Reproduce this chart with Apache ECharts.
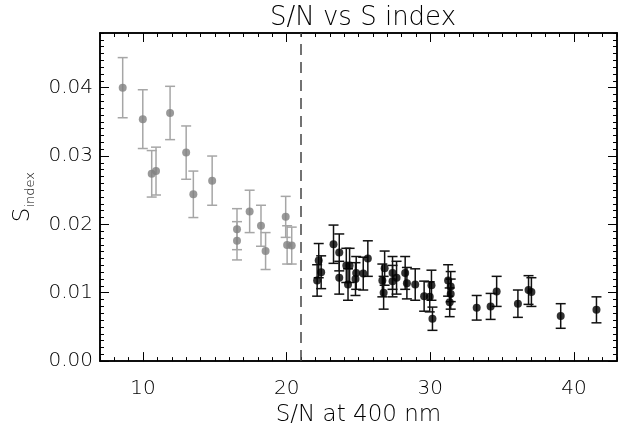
<!DOCTYPE html>
<html>
<head>
<meta charset="utf-8">
<script src="https://cdn.jsdelivr.net/npm/echarts@6/dist/echarts.min.js"></script>
<style>
  html, body { margin: 0; padding: 0; background: #fff; }
  #chart { width: 628px; height: 432px; }
</style>
</head>
<body>
<div id="chart"></div>
<script>
// low S/N points (grey)
var grayX = [8.58, 9.98, 10.6, 10.9, 11.88, 13.0, 13.5, 14.81, 16.54, 16.54, 17.42, 18.21, 18.53, 19.93, 20.03, 20.35];
var grayY = [0.0400, 0.0354, 0.0274, 0.0278, 0.0363, 0.0305, 0.0244, 0.0264, 0.0193, 0.0176, 0.0219, 0.0198, 0.0161, 0.0211, 0.0170, 0.0169];
var grayErr = [0.0044, 0.0043, 0.0034, 0.0035, 0.0039, 0.0039, 0.0034, 0.0036, 0.0030, 0.0028, 0.0031, 0.0030, 0.0027, 0.0030, 0.0028, 0.0027];

// high S/N points (black)
var blackX = [22.12, 22.23, 22.40, 23.26, 23.66, 23.66, 24.15, 24.38, 24.27, 24.84, 24.79, 25.33, 25.65, 26.66, 26.82, 26.75, 27.37, 27.37, 27.65, 28.25, 28.37, 28.95, 29.57, 29.96, 30.08, 30.15, 31.24, 31.42, 31.42, 31.35, 33.23, 34.20, 34.62, 36.10, 36.84, 37.04, 39.08, 41.57];
var blackY = [0.0118, 0.0147, 0.0130, 0.0171, 0.0159, 0.0122, 0.0140, 0.0140, 0.0112, 0.0129, 0.0120, 0.0128, 0.0150, 0.0118, 0.0136, 0.0100, 0.0129, 0.0117, 0.0122, 0.0129, 0.0114, 0.0112, 0.0095, 0.0094, 0.0111, 0.0062, 0.0118, 0.0109, 0.0098, 0.0086, 0.0078, 0.0080, 0.0102, 0.0084, 0.0104, 0.0101, 0.0066, 0.0075];
var blackErr = [0.0023, 0.0025, 0.0024, 0.0028, 0.0027, 0.0024, 0.0025, 0.0025, 0.0023, 0.0024, 0.0024, 0.0024, 0.0026, 0.0024, 0.0025, 0.0024, 0.0024, 0.0023, 0.0024, 0.0024, 0.0023, 0.0023, 0.0022, 0.0022, 0.0022, 0.0017, 0.0023, 0.0022, 0.0022, 0.0021, 0.0018, 0.0019, 0.0022, 0.0020, 0.0021, 0.0021, 0.0018, 0.0019];

var xMajor = [10, 20, 30, 40];
var yMajor = [0, 0.01, 0.02, 0.03, 0.04];
var cutX = 21;

var FONT = 'DejaVu Sans';
var WEIGHT = 200;

function zip(xs, ys, es) {
    return xs.map(function (x, i) { return es ? [x, ys[i], es[i]] : [x, ys[i]]; });
}

// vertical bar + caps, placed with the axis scales
function errBars(color) {
    return function (params, api) {
        var x = api.value(0), y = api.value(1), e = api.value(2);
        var top = api.coord([x, y + e]);
        var bot = api.coord([x, y - e]);
        var cw = 5;
        var st = { stroke: color, lineWidth: 1.5 };
        return {
            type: 'group',
            children: [
                { type: 'line', shape: { x1: top[0], y1: top[1], x2: bot[0], y2: bot[1] }, style: st },
                { type: 'line', shape: { x1: top[0] - cw, y1: top[1], x2: top[0] + cw, y2: top[1] }, style: st },
                { type: 'line', shape: { x1: bot[0] - cw, y1: bot[1], x2: bot[0] + cw, y2: bot[1] }, style: st }
            ]
        };
    };
}

var axLine = { show: true, onZero: false, lineStyle: { color: '#000', width: 1.5 } };

function xAx(pos, major, labels) {
    return {
        type: 'value', position: pos, min: 7, max: 43, interval: 1,
        axisLine: axLine,
        splitLine: { show: false },
        axisTick: major
            ? { inside: true, length: 9, customValues: xMajor, lineStyle: { color: '#000', width: 1 } }
            : { inside: true, length: 4, lineStyle: { color: '#000', width: 1 } },
        axisLabel: labels
            ? { show: true, customValues: xMajor, margin: 18, fontFamily: FONT, fontWeight: WEIGHT, fontSize: 20, color: '#000' }
            : { show: false },
        name: labels ? 'S/N at 400 nm' : '',
        nameLocation: 'middle', nameGap: 38,
        nameTextStyle: { fontFamily: FONT, fontWeight: WEIGHT, fontSize: 23, color: '#000' }
    };
}

function yAx(pos, major, labels) {
    return {
        type: 'value', position: pos, min: 0, max: 0.048, interval: 0.001,
        axisLine: axLine,
        splitLine: { show: false },
        axisTick: major
            ? { inside: true, length: 9, customValues: yMajor, lineStyle: { color: '#000', width: 1 } }
            : { inside: true, length: 4, lineStyle: { color: '#000', width: 1 } },
        axisLabel: labels
            ? { show: true, customValues: yMajor, margin: 7, fontFamily: FONT, fontWeight: WEIGHT, fontSize: 20, color: '#000',
                formatter: function (v) { return v.toFixed(2); } }
            : { show: false },
        name: labels ? '{s|S}{sub|index}' : '',
        nameLocation: 'middle', nameGap: 56, nameRotate: 90,
        nameTextStyle: {
            fontFamily: FONT, color: '#000',
            rich: {
                s: { fontFamily: FONT, fontWeight: WEIGHT, fontSize: 23, color: '#000', verticalAlign: 'top', lineHeight: 26 },
                sub: { fontFamily: FONT, fontWeight: WEIGHT, fontSize: 13, color: '#000', verticalAlign: 'bottom', lineHeight: 26, padding: [10, 0, 0, 0] }
            }
        }
    };
}

var chart = echarts.init(document.getElementById('chart'), null, { renderer: 'canvas' });

chart.setOption({
    animation: false,
    backgroundColor: '#fff',
    title: {
        text: 'S/N vs S index',
        left: 358, top: 0, textAlign: 'center',
        textStyle: { fontFamily: FONT, fontSize: 26, fontWeight: WEIGHT, color: '#000' }
    },
    grid: { left: 100, right: 11, top: 33, bottom: 68 },
    xAxis: [xAx('bottom', false, false), xAx('bottom', true, true), xAx('top', false, false), xAx('top', true, false)],
    yAxis: [yAx('left', false, false), yAx('left', true, true), yAx('right', false, false), yAx('right', true, false)],
    series: [
        {
            type: 'custom', name: 'gray err', renderItem: errBars('#a6a6a6'),
            data: zip(grayX, grayY, grayErr), z: 2,
            encode: { x: 0, y: 1 }
        },
        {
            type: 'scatter', name: 'gray', data: zip(grayX, grayY),
            symbol: 'circle', symbolSize: 8, itemStyle: { color: '#7f7f7f' }, z: 3
        },
        {
            type: 'custom', name: 'black err', renderItem: errBars('#111'),
            data: zip(blackX, blackY, blackErr), z: 2,
            encode: { x: 0, y: 1 }
        },
        {
            type: 'scatter', name: 'black', data: zip(blackX, blackY),
            symbol: 'circle', symbolSize: 8, itemStyle: { color: '#000' }, z: 3,
            markLine: {
                silent: true, symbol: 'none', label: { show: false },
                lineStyle: { color: '#444', width: 1.5, type: [11, 7] },
                data: [{ xAxis: cutX }]
            }
        }
    ]
});
</script>
</body>
</html>
